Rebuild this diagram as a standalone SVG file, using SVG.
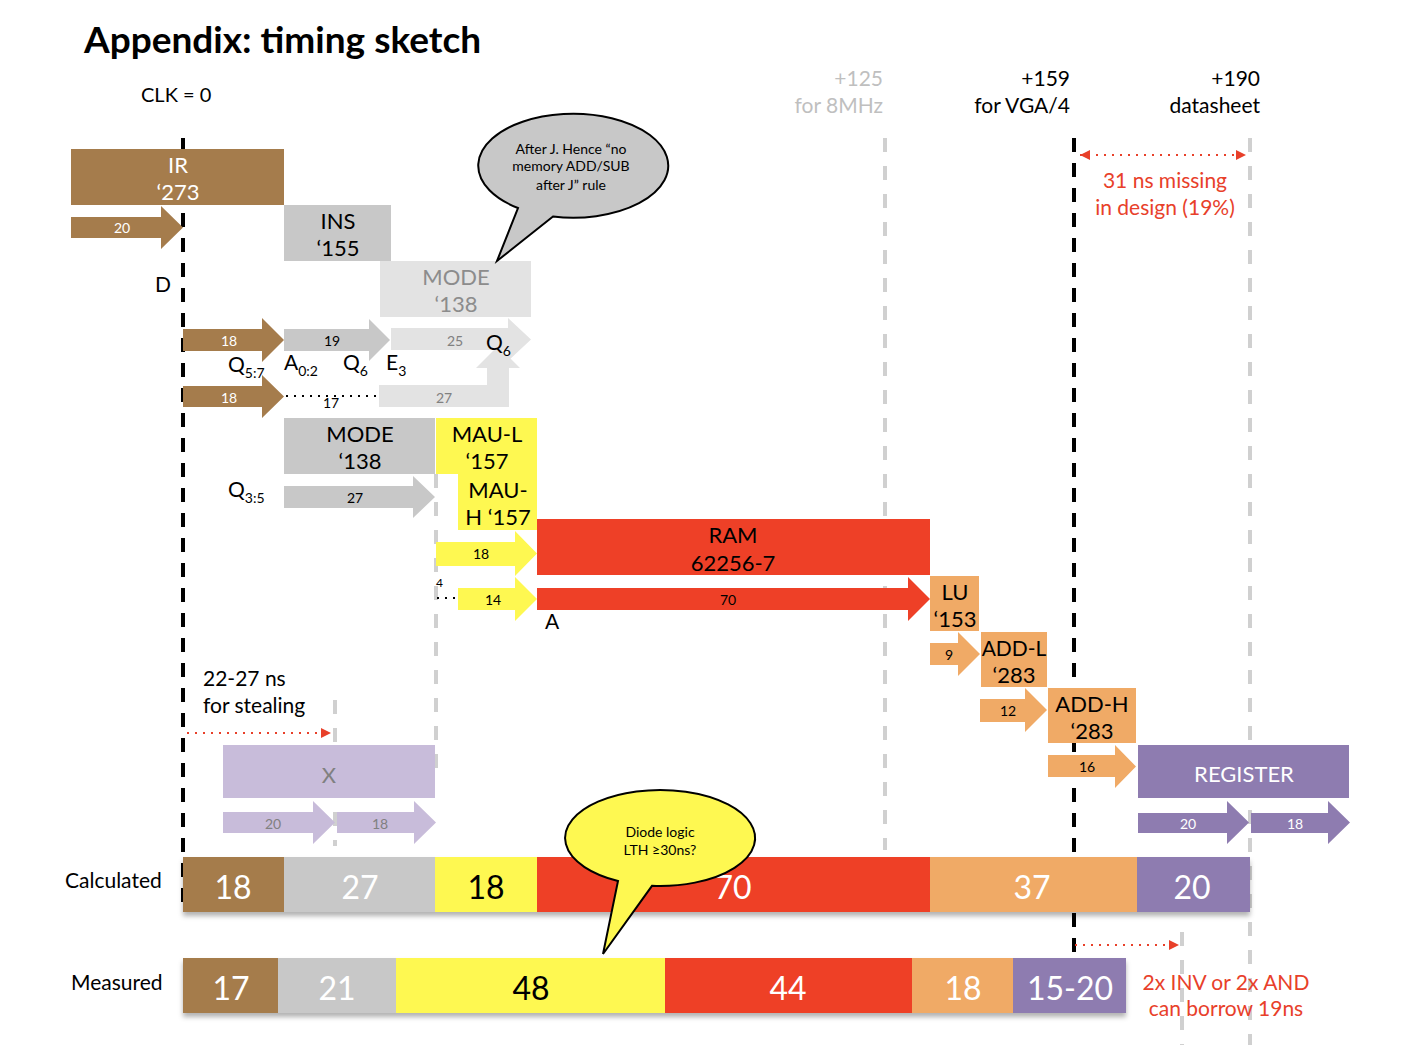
<svg xmlns="http://www.w3.org/2000/svg" width="1410" height="1064" viewBox="0 0 1410 1064">
<style>
text{font-family:Lato,"Open Sans","Liberation Sans",sans-serif}
.t{font-size:22px;text-anchor:middle}
.s{font-size:14px;text-anchor:middle}
.l{font-size:21px}
.big{font-size:32px;text-anchor:middle;fill:#fff}
.w{fill:#fff}.k{fill:#000}.g{fill:#808080}
.brown{fill:#A57C4C}.gray{fill:#C8C8C8}.lgray{fill:#E3E3E3}.yel{fill:#FEF851}.red{fill:#EE4027}.org{fill:#F0AA66}.pur{fill:#8E7CB0}.lpur{fill:#C8BCDA}
.bd{stroke:#000;stroke-width:4;stroke-dasharray:14 11;fill:none}
.gd{stroke:#D0D0D0;stroke-width:4;stroke-dasharray:14 14;fill:none}
.rd{stroke:#E8402A;stroke-width:2;stroke-dasharray:2 6;fill:none}
.kd{stroke:#000;stroke-width:2;stroke-dasharray:2 6;fill:none}
.red-t{fill:#E8402A}
.bt{font-size:14px;text-anchor:middle}
</style>
<defs>
<marker id="ra" viewBox="0 0 10 10" refX="10" refY="5" markerWidth="5" markerHeight="5" orient="auto-start-reverse" markerUnits="strokeWidth"><path d="M0 0L10 5L0 10Z" fill="#E8402A"/></marker>
<filter id="sh" x="-5%" y="-20%" width="110%" height="150%"><feDropShadow dx="0" dy="4" stdDeviation="2.5" flood-color="#000" flood-opacity="0.3"/></filter>
</defs>
<rect width="1410" height="1064" fill="#fff"/>
<text x="84" y="53" style="font-size:37px;font-weight:bold">Appendix: timing sketch</text>
<text x="141" y="102" style="font-size:20px">CLK = 0</text>
<text x="155" y="292" class="l">D</text>
<text x="883" y="86" class="l" text-anchor="end" fill="#BFBFBF">+125</text>
<text x="883" y="113" class="l" text-anchor="end" fill="#BFBFBF">for 8MHz</text>
<text x="1070" y="86" class="l" text-anchor="end">+159</text>
<text x="1070" y="113" class="l" text-anchor="end">for VGA/4</text>
<text x="1260" y="86" class="l" text-anchor="end">+190</text>
<text x="1260" y="113" class="l" text-anchor="end">datasheet</text>

<g id="connectors">
<path class="bd" d="M183 138V905"/>
<path class="bd" d="M1074 138V958"/>
<path class="gd" d="M885 138V850"/>
<path class="gd" d="M1250 138V1045"/>
<path class="gd" d="M436 474V772"/>
<path class="gd" d="M335 700V846"/>
<path class="gd" d="M1182 932V1045"/>
<path class="rd" d="M1080 155H1246" marker-start="url(#ra)" marker-end="url(#ra)"/>
<path class="rd" d="M187 733H331" marker-end="url(#ra)"/>
<path class="rd" d="M1075 945H1179" marker-end="url(#ra)"/>
<path class="kd" d="M286 396H378"/>
<path class="kd" d="M437 598H457"/>
</g>

<text x="1165" y="188" class="l red-t" text-anchor="middle">31 ns missing</text>
<text x="1165" y="215" class="l red-t" text-anchor="middle">in design (19%)</text>
<text x="203" y="686" class="l">22-27 ns</text>
<text x="203" y="713" class="l">for stealing</text>

<g id="ir"><rect class="brown" x="71" y="149" width="213" height="56"/><text class="t w" x="178" y="173">IR</text><text class="t w" x="178" y="200">‘273</text></g>
<g id="arrow-ir-20"><path class="brown" d="M71 217H161V206L183 227.5L161 249V238H71Z"/><text class="s w" x="122" y="233">20</text></g>
<g id="ins"><rect class="gray" x="284" y="205" width="107" height="56"/><text class="t k" x="338" y="229">INS</text><text class="t k" x="338" y="256">‘155</text></g>
<g id="mode-light"><rect class="lgray" x="380" y="261" width="151" height="56"/><text class="t" fill="#8C8C8C" x="456" y="285">MODE</text><text class="t" fill="#8C8C8C" x="456" y="312">‘138</text></g>

<g id="bubble-j">
<path d="M553 216.5A95 52 0 1 0 518 208L497 261Z" fill="#C8C8C8" stroke="#000" stroke-width="2"/>
<text x="571" y="154" class="bt">After J. Hence “no</text>
<text x="571" y="171" class="bt">memory ADD/SUB</text>
<text x="571" y="190" class="bt">after  J” rule</text>
</g>

<g id="arrow-18a"><path class="brown" d="M183 329H262V318L284 340L262 362V351H183Z"/><text class="s w" x="229" y="346">18</text></g>
<g id="arrow-19"><path class="gray" d="M284 329H369V319L390 340L369 361V351H284Z"/><text class="s k" x="332" y="346">19</text></g>
<g id="arrow-27-bent"><path class="lgray" d="M379 385H487V368H476L498 346L520 368H509V407H379Z"/><text class="s g" x="444" y="403">27</text></g>
<g id="arrow-25"><path class="lgray" d="M391 328H508V318L531 339.5L508 361V350H391Z"/><text class="s g" x="455" y="346">25</text></g>
<text x="486" y="350" class="l">Q<tspan font-size="14" dy="6">6</tspan></text>
<text x="228" y="372" class="l">Q<tspan font-size="14" dy="6">5:7</tspan></text>
<text x="284" y="370" class="l">A<tspan font-size="14" dy="6">0:2</tspan></text>
<text x="343" y="370" class="l">Q<tspan font-size="14" dy="6">6</tspan></text>
<text x="386" y="370" class="l">E<tspan font-size="14" dy="6">3</tspan></text>
<g id="arrow-18b"><path class="brown" d="M183 386H262V375L284 396.5L262 418V407H183Z"/><text class="s w" x="229" y="403">18</text></g>
<text x="331" y="408" class="s">17</text>

<g id="mode-dark"><rect class="gray" x="284" y="418" width="151" height="56"/><text class="t k" x="360" y="442">MODE</text><text class="t k" x="360" y="469">‘138</text></g>
<g id="mau-l"><rect class="yel" x="436" y="418" width="101" height="56"/><text class="t k" x="487" y="442">MAU-L</text><text class="t k" x="487" y="469">‘157</text></g>
<g id="mau-h"><rect class="yel" x="458" y="474" width="79" height="56"/><text class="t k" x="498" y="498">MAU-</text><text class="t k" x="498" y="525">H ‘157</text></g>
<text x="228" y="497" class="l">Q<tspan font-size="14" dy="6">3:5</tspan></text>
<g id="arrow-27"><path class="gray" d="M284 486H413V476L435 497L413 518V508H284Z"/><text class="s k" x="355" y="503">27</text></g>

<g id="arrow-18y"><path class="yel" d="M436 542H515V531L537 553.5L515 576V566H436Z"/><text class="s k" x="481" y="559">18</text></g>
<text x="436" y="587" style="font-size:12px">4</text>
<g id="arrow-14"><path class="yel" d="M458 588H515V577L537 599L515 621V610H458Z"/><text class="s k" x="493" y="605">14</text></g>
<g id="ram"><rect class="red" x="537" y="519" width="393" height="56"/><text class="t k" x="733" y="543">RAM</text><text class="t k" x="733" y="571">62256-7</text></g>
<g id="arrow-70"><path class="red" d="M537 588H908V577L930 599L908 621V610H537Z"/><text class="s k" x="728" y="605">70</text></g>
<text x="545" y="629" class="l">A</text>

<g id="lu"><rect class="org" x="930" y="576" width="49" height="55"/><text class="t k" x="955" y="600">LU</text><text class="t k" x="955" y="627">‘153</text></g>
<g id="arrow-9"><path class="org" d="M930 643H958V632L980 654L958 676V665H930Z"/><text class="s k" x="949" y="660">9</text></g>
<g id="add-l"><rect class="org" x="981" y="632" width="66" height="55"/><text class="t k" x="1014" y="656" style="font-size:21px">ADD-L</text><text class="t k" x="1014" y="683">‘283</text></g>
<g id="arrow-12"><path class="org" d="M980 699H1025V688L1047 710L1025 732V722H980Z"/><text class="s k" x="1008" y="716">12</text></g>
<g id="add-h"><rect class="org" x="1048" y="688" width="88" height="55"/><text class="t k" x="1092" y="712">ADD-H</text><text class="t k" x="1092" y="739">‘283</text></g>
<g id="arrow-16"><path class="org" d="M1048 755H1115V745L1136 766.5L1115 788V777H1048Z"/><text class="s k" x="1087" y="772">16</text></g>
<g id="register"><rect class="pur" x="1138" y="745" width="211" height="53"/><text class="t w" x="1244" y="782">REGISTER</text></g>
<g id="arrow-20p"><path class="pur" d="M1138 813H1227V801L1249 822.5L1227 844V833H1138Z"/><text class="s w" x="1188" y="829">20</text></g>
<g id="arrow-18p"><path class="pur" d="M1251 813H1328V801L1350 822.5L1328 844V833H1251Z"/><text class="s w" x="1295" y="829">18</text></g>

<g id="x-box"><rect class="lpur" x="223" y="745" width="212" height="53"/><text class="t g" x="329" y="783">X</text></g>
<g id="arrow-20x"><path class="lpur" d="M223 812H313V801L335 822.5L313 844V833H223Z"/><text class="s g" x="273" y="829">20</text></g>
<g id="arrow-18x"><path class="lpur" d="M337 812H414V801L436 822.5L414 844V833H337Z"/><text class="s g" x="380" y="829">18</text></g>

<text x="65" y="888" class="l">Calculated</text>
<g id="calculated" filter="url(#sh)">
<rect class="brown" x="183" y="857" width="101" height="55"/>
<rect class="gray" x="284" y="857" width="151" height="55"/>
<rect class="yel" x="435" y="857" width="102" height="55"/>
<rect class="red" x="537" y="857" width="393" height="55"/>
<rect class="org" x="930" y="857" width="207" height="55"/>
<rect class="pur" x="1137" y="857" width="113" height="55"/>
</g>
<text class="big" x="233" y="899">18</text>
<text class="big" x="360" y="899">27</text>
<text class="big" x="486" y="899" style="fill:#000">18</text>
<text class="big" x="733" y="899">70</text>
<text class="big" x="1032" y="899">37</text>
<text class="big" x="1192" y="899">20</text>

<text x="71" y="990" class="l">Measured</text>
<g id="measured" filter="url(#sh)">
<rect class="brown" x="183" y="958" width="95" height="55"/>
<rect class="gray" x="278" y="958" width="118" height="55"/>
<rect class="yel" x="396" y="958" width="269" height="55"/>
<rect class="red" x="665" y="958" width="247" height="55"/>
<rect class="org" x="912" y="958" width="101" height="55"/>
<rect class="pur" x="1013" y="958" width="113" height="55"/>
</g>
<text class="big" x="231" y="1000">17</text>
<text class="big" x="337" y="1000">21</text>
<text class="big" x="531" y="1000" style="fill:#000">48</text>
<text class="big" x="788" y="1000">44</text>
<text class="big" x="963" y="1000">18</text>
<text class="big" x="1070" y="1000">15-20</text>
<text x="1226" y="990" class="l red-t" text-anchor="middle">2x INV or 2x AND</text>
<text x="1226" y="1016" class="l red-t" text-anchor="middle">can borrow 19ns</text>

<g id="bubble-diode">
<path d="M652 885.8A95 48 0 1 0 618 881L603 954Z" fill="#FEF851" stroke="#000" stroke-width="2"/>
<text x="660" y="837" class="bt">Diode logic</text>
<text x="660" y="855" class="bt">LTH  ≥30ns?</text>
</g>
</svg>
